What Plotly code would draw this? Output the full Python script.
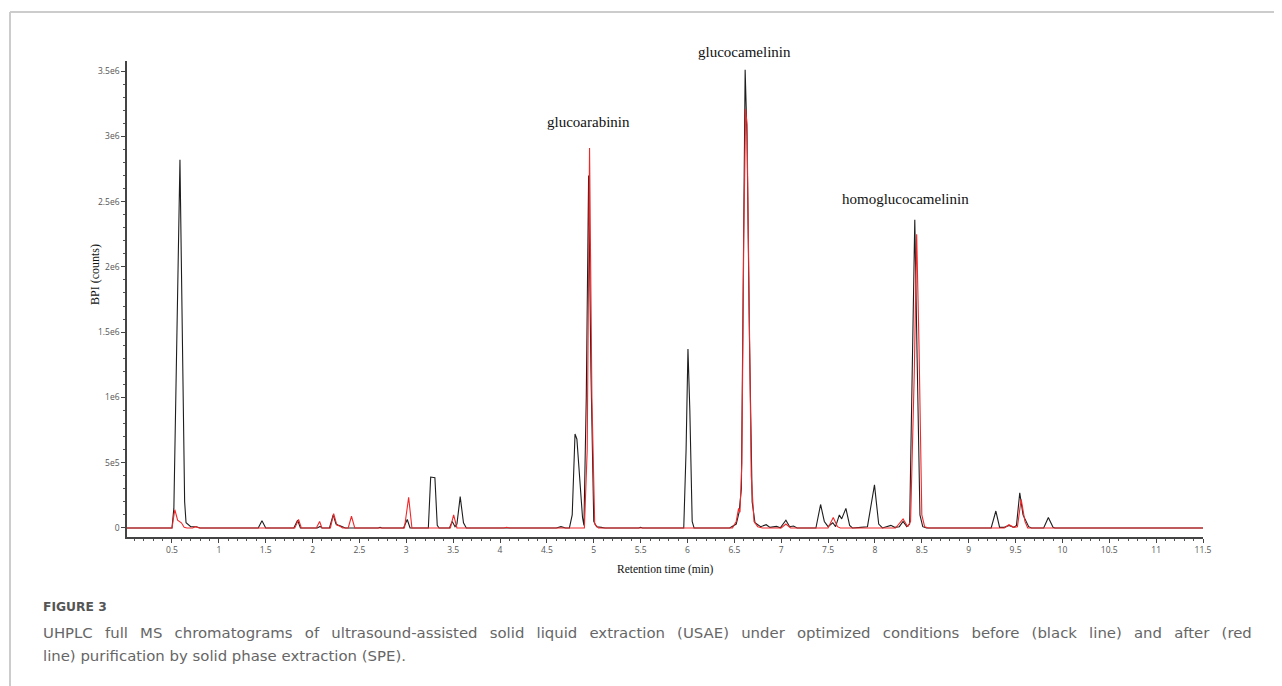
import plotly.graph_objects as go

# ---------------- data ----------------
black_time = [0.02, 0.50, 0.52, 0.55, 0.585, 0.61, 0.635, 0.65, 0.70, 0.76, 0.80,
              1.42, 1.46, 1.50,
              1.80, 1.84, 1.87,
              2.05, 2.08, 2.10,
              2.18, 2.22, 2.25, 2.28, 2.32, 2.35,
              2.70, 2.72, 2.74,
              2.97, 3.01, 3.04,
              3.235, 3.26, 3.305, 3.33, 3.35,
              3.46, 3.49, 3.52, 3.54, 3.575, 3.61, 3.64,
              4.60, 4.65, 4.70,
              4.74, 4.77, 4.80, 4.82, 4.85, 4.88, 4.895, 4.92, 4.945, 4.97, 5.00, 5.03, 5.08, 5.12,
              5.48, 5.50, 5.52,
              5.96, 5.985, 6.005, 6.025, 6.05, 6.07,
              6.45, 6.52, 6.55, 6.575, 6.60, 6.615, 6.635, 6.66, 6.69, 6.72, 6.78, 6.84, 6.88,
              6.95, 6.99, 7.05, 7.09, 7.13, 7.17,
              7.37, 7.42, 7.46, 7.50, 7.55, 7.58, 7.62, 7.645, 7.69, 7.73, 7.76,
              7.85, 7.92, 7.995, 8.04, 8.08, 8.13, 8.17, 8.21, 8.26, 8.30, 8.34, 8.37, 8.40,
              8.425, 8.45, 8.48, 8.51, 8.55,
              9.24, 9.29, 9.33, 9.38, 9.43, 9.48, 9.51, 9.545, 9.58, 9.61, 9.64, 9.67,
              9.80, 9.85, 9.90, 9.92,
              10.75, 10.80, 10.84,
              11.5]
black_bpi = [0, 0, 0.15e6, 1.5e6, 2.82e6, 1.5e6, 0.2e6, 0.04e6, 0.01e6, 0.01e6, 0,
             0, 0.055e6, 0,
             0, 0.06e6, 0,
             0, 0.012e6, 0,
             0, 0.10e6, 0.03e6, 0.02e6, 0.01e6, 0,
             0, 0.005e6, 0,
             0, 0.065e6, 0,
             0, 0.39e6, 0.385e6, 0.02e6, 0,
             0, 0.05e6, 0.01e6, 0.03e6, 0.24e6, 0.04e6, 0,
             0, 0.01e6, 0,
             0, 0.10e6, 0.72e6, 0.68e6, 0.35e6, 0.08e6, 0.02e6, 1.0e6, 2.70e6, 1.2e6, 0.05e6, 0.01e6, 0.005e6, 0,
             0, 0.005e6, 0,
             0, 0.6e6, 1.37e6, 0.9e6, 0.05e6, 0,
             0, 0.03e6, 0.12e6, 0.3e6, 2.0e6, 3.51e6, 3.0e6, 1.5e6, 0.2e6, 0.04e6, 0.01e6, 0.025e6, 0.005e6,
             0.012e6, 0.002e6, 0.06e6, 0.01e6, 0.015e6, 0,
             0, 0.18e6, 0.05e6, 0.01e6, 0.04e6, 0.01e6, 0.10e6, 0.07e6, 0.15e6, 0.02e6, 0,
             0.005e6, 0.01e6, 0.33e6, 0.03e6, 0, 0.01e6, 0.02e6, 0.005e6, 0.01e6, 0.05e6, 0.01e6, 0.03e6, 1.2e6,
             2.36e6, 1.3e6, 0.1e6, 0.01e6, 0,
             0, 0.13e6, 0.005e6, 0.005e6, 0.02e6, 0.005e6, 0.02e6, 0.27e6, 0.10e6, 0.06e6, 0.01e6, 0,
             0, 0.08e6, 0.005e6, 0,
             0, 0.005e6, 0,
             0]

red_time = [0.02, 0.50, 0.53, 0.56, 0.60, 0.63, 0.66, 0.72, 0.75, 0.79,
            1.81, 1.85, 1.88,
            2.04, 2.075, 2.10,
            2.19, 2.225, 2.26, 2.29, 2.32,
            2.38, 2.415, 2.45,
            2.98, 3.025, 3.06,
            3.47, 3.505, 3.54,
            4.04, 4.07, 4.10,
            4.90, 4.93, 4.955, 4.98, 5.01, 5.05,
            5.70, 5.73, 5.76,
            6.48, 6.52, 6.545, 6.56, 6.58, 6.60, 6.62, 6.635, 6.655, 6.68, 6.71, 6.75, 6.80,
            7.00, 7.05, 7.10,
            7.50, 7.555, 7.60, 7.63,
            8.22, 8.30, 8.35, 8.38, 8.42, 8.445, 8.47, 8.50, 8.53, 8.57,
            9.38, 9.43, 9.48, 9.52, 9.56, 9.60, 9.63,
            10.17, 10.20, 10.23,
            11.32, 11.35, 11.38,
            11.5]
red_bpi = [0, 0, 0.14e6, 0.06e6, 0.04e6, 0.005e6, 0, 0, 0.01e6, 0,
           0, 0.065e6, 0,
           0, 0.05e6, 0,
           0, 0.11e6, 0.02e6, 0.015e6, 0,
           0, 0.09e6, 0,
           0, 0.235e6, 0,
           0, 0.10e6, 0,
           0, 0.006e6, 0,
           0, 0.6e6, 2.91e6, 1.0e6, 0.03e6, 0,
           0, 0.005e6, 0,
           0, 0.05e6, 0.15e6, 0.12e6, 0.5e6, 2.2e6, 3.21e6, 3.09e6, 2.0e6, 0.4e6, 0.05e6, 0.01e6, 0,
           0, 0.03e6, 0,
           0, 0.08e6, 0.01e6, 0,
           0, 0.07e6, 0.01e6, 0.05e6, 1.2e6, 2.25e6, 1.4e6, 0.1e6, 0.01e6, 0,
           0, 0.025e6, 0.005e6, 0.01e6, 0.22e6, 0.05e6, 0,
           0, 0.004e6, 0,
           0, 0.004e6, 0,
           0]

x_tick_vals = [0.5, 1, 1.5, 2, 2.5, 3, 3.5, 4, 4.5, 5, 5.5, 6, 6.5, 7, 7.5, 8, 8.5, 9, 9.5, 10, 10.5, 11, 11.5]
x_tick_text = ["0.5", "1", "1.5", "2", "2.5", "3", "3.5", "4", "4.5", "5", "5.5", "6", "6.5", "7",
               "7.5", "8", "8.5", "9", "9.5", "10", "10.5", "11", "11.5"]
y_tick_vals = [0, 5e5, 1e6, 1.5e6, 2e6, 2.5e6, 3e6, 3.5e6]
y_tick_text = ["0", "5e5", "1e6", "1.5e6", "2e6", "2.5e6", "3e6", "3.5e6"]

peak_names = ["glucoarabinin", "glucocamelinin", "homoglucocamelinin"]
peak_label_x = [4.94, 6.605, 8.33]
peak_label_y = [3.11e6, 3.645e6, 2.52e6]

caption_title = "FIGURE 3"
caption_line1 = ("UHPLC full MS chromatograms of ultrasound-assisted solid liquid extraction (USAE) "
                 "under optimized conditions before (black line) and after (red")
caption_line2 = "line) purification by solid phase extraction (SPE)."

# ---------------- figure ----------------
OFF = 8                       # page body margin of the written html
W, H = 1282 - OFF, 686 - OFF
L, T = 127 - OFF, 61 - OFF
PW, PH = 1076, 476
R, B = W - L - PW, H - T - PH
X_RANGE = [0.02, 11.5]
Y_RANGE = [-0.69e5, 3.577e6]


def px_x(px):
    return (px - OFF - L) / PW


def px_y(py):
    return (H - B - (py - OFF)) / PH


def data_to_paper_y(v):
    return (v - Y_RANGE[0]) / (Y_RANGE[1] - Y_RANGE[0])


fig = go.Figure()
fig.add_trace(go.Scatter(x=black_time, y=black_bpi, mode="lines",
                         line=dict(color="#1e1e1e", width=1.1), name="before SPE",
                         showlegend=False))
fig.add_trace(go.Scatter(x=red_time, y=red_bpi, mode="lines",
                         line=dict(color="#f0282a", width=1.1), name="after SPE",
                         showlegend=False))

tickfont = dict(family="Open Sans, sans-serif", size=8.5, color="#555555")
fig.update_xaxes(range=X_RANGE, tickmode="array", tickvals=x_tick_vals, ticktext=x_tick_text,
                 ticks="outside", ticklen=4, tickwidth=1, tickcolor="#444444",
                 showline=True, linecolor="#444444", linewidth=1.5,
                 showgrid=False, zeroline=False, tickfont=tickfont,
                 minor=dict(tickmode="linear", tick0=0, dtick=0.1, ticks="outside", ticklen=2.5,
                            tickcolor="#555555", tickwidth=1, showgrid=False))
fig.update_yaxes(range=Y_RANGE, tickmode="array", tickvals=y_tick_vals, ticktext=y_tick_text,
                 ticks="outside", ticklen=4, tickwidth=1, tickcolor="#444444",
                 showline=True, linecolor="#444444", linewidth=1.5,
                 showgrid=False, zeroline=False, tickfont=tickfont,
                 minor=dict(tickmode="linear", tick0=0, dtick=1e5, ticks="outside", ticklen=2.5,
                            tickcolor="#555555", tickwidth=1, showgrid=False))

serif = "Liberation Serif, Times New Roman, serif"
sans = "DejaVu Sans, sans-serif"
annotations = []
for name, xv, yv in zip(peak_names, peak_label_x, peak_label_y):
    annotations.append(dict(x=xv, y=data_to_paper_y(yv), xref="x", yref="paper", text=name,
                            showarrow=False, font=dict(family=serif, size=15, color="#111111"),
                            xanchor="center", yanchor="middle"))
annotations.append(dict(x=px_x(95), y=px_y(275), xref="paper", yref="paper", text="BPI (counts)",
                        textangle=-90, showarrow=False, font=dict(family=serif, size=12, color="#111111"),
                        xanchor="center", yanchor="middle"))
annotations.append(dict(x=px_x(665), y=px_y(569), xref="paper", yref="paper", text="Retention time (min)",
                        showarrow=False, font=dict(family=serif, size=11.5, color="#111111"),
                        xanchor="center", yanchor="middle"))
annotations.append(dict(x=px_x(41), y=px_y(607), xref="paper", yref="paper", text="<b>" + caption_title + "</b>",
                        showarrow=False, font=dict(family=sans, size=12.3, color="#555555"),
                        xanchor="left", yanchor="middle"))
# first caption line is justified in the reference: widen the word gaps
annotations.append(dict(x=px_x(41), y=px_y(633), xref="paper", yref="paper",
                        text=caption_line1.replace(" ", " \u2002"),
                        showarrow=False, font=dict(family=sans, size=14.9, color="#666666"),
                        xanchor="left", yanchor="middle"))
annotations.append(dict(x=px_x(41), y=px_y(656), xref="paper", yref="paper", text=caption_line2,
                        showarrow=False, font=dict(family=sans, size=14.9, color="#666666"),
                        xanchor="left", yanchor="middle"))

shapes = [
    dict(type="line", xref="paper", yref="paper", x0=px_x(10), x1=px_x(1300), y0=px_y(12), y1=px_y(12),
         line=dict(color="#cccccc", width=2)),
    dict(type="line", xref="paper", yref="paper", x0=px_x(10), x1=px_x(10), y0=px_y(12), y1=px_y(700),
         line=dict(color="#cccccc", width=2)),
]

fig.update_layout(width=W, height=H, margin=dict(l=L, r=R, t=T, b=B, autoexpand=False),
                  paper_bgcolor="white", plot_bgcolor="white",
                  annotations=annotations, shapes=shapes, showlegend=False)

fig.write_html("out.html")
